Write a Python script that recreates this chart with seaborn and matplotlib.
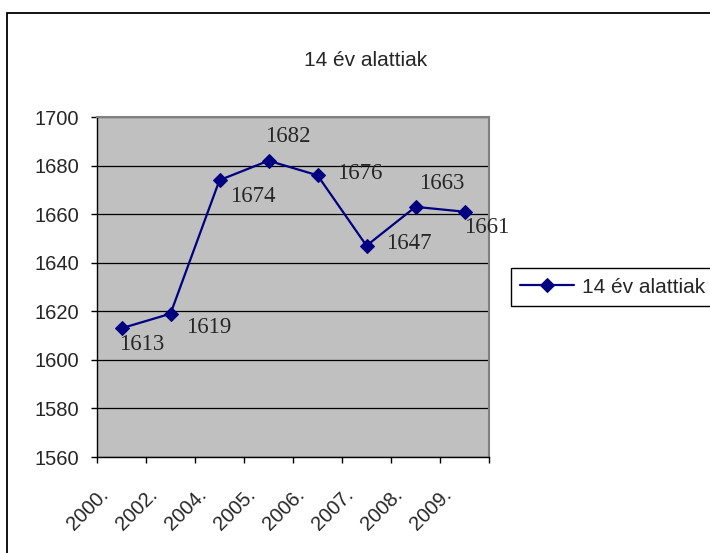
import numpy as np
import pandas as pd
import matplotlib.pyplot as plt
import matplotlib.transforms as mtransforms
from matplotlib.patches import Rectangle
import seaborn as sns

# Data
years = ["2000.", "2002.", "2004.", "2005.", "2006.", "2007.", "2008.", "2009."]
values = [1613, 1619, 1674, 1682, 1676, 1647, 1663, 1661]
series_name = "14 év alattiak"
y_ticks = [1560, 1580, 1600, 1620, 1640, 1660, 1680, 1700]

# label offsets (pixels) for the data labels
label_offsets = [(20, -16), (38, -14), (33, -16), (19, 24),
                 (42, 2), (42, 2), (26, 23), (22, -16)]

sns.set_style("white")
plt.rcParams['font.family'] = ['Liberation Sans', 'DejaVu Sans']

df = pd.DataFrame({"pos": np.arange(len(years)), "year": years,
                   "value": values, "series": series_name})

fig = plt.figure(figsize=(7.1, 5.53), dpi=100)
ax = fig.add_axes([97/710, 1-457/553, 392/710, 340/553])
ax.set_facecolor("#C0C0C0")

# outer chart frame
fig.patches.append(Rectangle((7/710, -0.1), 1.2, 0.1 + 1 - 13/553,
                             transform=fig.transFigure, fill=False,
                             edgecolor="black", lw=1.3, clip_on=False))

for yv in y_ticks:
    ax.axhline(yv, color="black", lw=0.9, zorder=1)

sns.lineplot(data=df, x="pos", y="value", hue="series",
             palette=["#000080"], marker="D", markersize=7.5,
             markeredgecolor="#000080", lw=1.6, ax=ax, zorder=3)

for i, (v, (dx, dy)) in enumerate(zip(values, label_offsets)):
    ax.annotate(str(v), (i, v), xytext=(dx, dy), textcoords="offset pixels",
                ha="center", va="center", fontsize=16.5,
                family="Liberation Serif", zorder=4)

ax.set_xlim(-0.5, len(years) - 0.5)
ax.set_ylim(1560, 1700)
ax.set_yticks(y_ticks)
ax.set_xticks(np.arange(len(years) + 1) - 0.5)
ax.set_xticklabels([])
ax.set_xticks(np.arange(len(years)), minor=True)
ax.set_xticklabels(years, minor=True, rotation=45, ha="right",
                   fontsize=14.5)
ax.tick_params(axis="x", which="major", direction="out", length=4,
               width=1, color="black", bottom=True)
ax.tick_params(axis="x", which="minor", length=0, pad=20, bottom=True)
ax.tick_params(axis="y", direction="out", length=4, width=1,
               color="black", left=True, labelsize=14.5, pad=9)
shift = mtransforms.ScaledTranslation(-9/100, 0, fig.dpi_scale_trans)
for lab in ax.get_xticklabels(minor=True):
    lab.set_transform(lab.get_transform() + shift)

ax.set_xlabel("")
ax.set_ylabel("")
for side in ["top", "right"]:
    ax.spines[side].set_color("#808080")
    ax.spines[side].set_linewidth(1.5)
for side in ["left", "bottom"]:
    ax.spines[side].set_color("black")
    ax.spines[side].set_linewidth(1)

fig.text(366/710, 1-61/553, series_name, ha="center", va="center",
         fontsize=15)

leg = ax.legend(loc="center left", bbox_to_anchor=(1.056, 0.5),
                fontsize=15, frameon=True, fancybox=False, framealpha=1,
                edgecolor="black", handlelength=2.6, handletextpad=0.35,
                borderpad=0.45, borderaxespad=0)
leg.get_frame().set_linewidth(1)
for h in leg.legend_handles:
    h.set_markersize(7.5)

fig.savefig("out.png", dpi=100)
